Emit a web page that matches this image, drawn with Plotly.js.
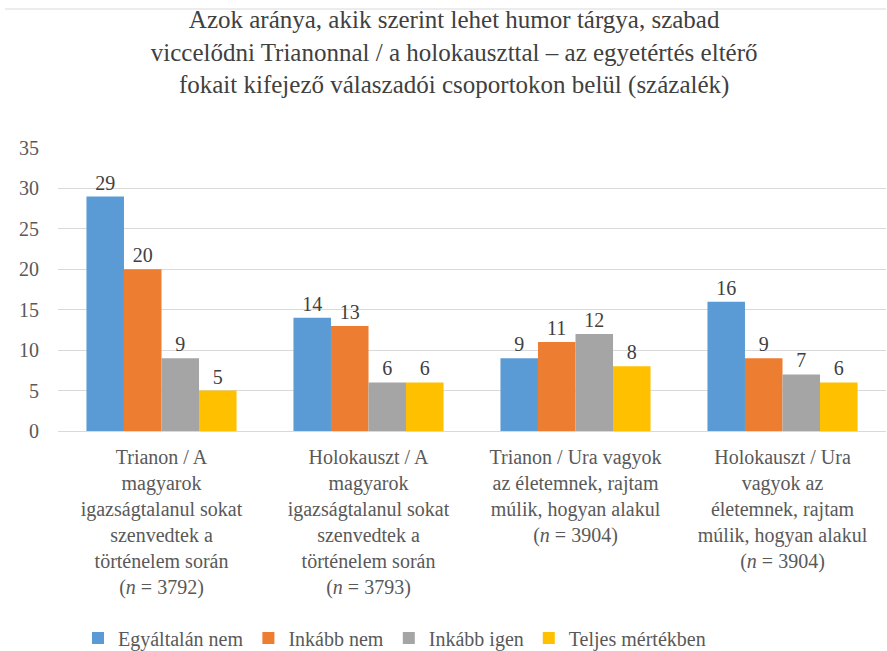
<!DOCTYPE html>
<html>
<head>
<meta charset="utf-8">
<script src="https://cdn.plot.ly/plotly-3.0.1.min.js"></script>
<style>
html,body{margin:0;padding:0;background:#fff;font-family:'Liberation Serif','Times New Roman',serif;}
#chart{width:887px;height:651px;}
#chart svg text, #chart svg tspan{font-family:'Liberation Serif','Times New Roman',serif !important;}
</style>
</head>
<body>
<div id="chart"></div>
<script>
const categories = [
  "Trianon / A<br>magyarok<br>igazságtalanul sokat<br>szenvedtek a<br>történelem során<br>(<i>n</i> = 3792)",
  "Holokauszt / A<br>magyarok<br>igazságtalanul sokat<br>szenvedtek a<br>történelem során<br>(<i>n</i> = 3793)",
  "Trianon / Ura vagyok<br>az életemnek, rajtam<br>múlik, hogyan alakul<br>(<i>n</i> = 3904)",
  "Holokauszt / Ura<br>vagyok az<br>életemnek, rajtam<br>múlik, hogyan alakul<br>(<i>n</i> = 3904)"
];
const seriesNames = ["Egyáltalán nem", "Inkább nem", "Inkább igen", "Teljes mértékben"];
const egyaltalanNem = [29, 14, 9, 16];
const inkabbNem = [20, 13, 11, 9];
const inkabbIgen = [9, 6, 12, 7];
const teljesMertekben = [5, 6, 8, 6];
const colors = ["#5B9BD5", "#ED7D31", "#A5A5A5", "#FFC000"];
const titleText = "Azok aránya, akik szerint lehet humor tárgya, szabad<br>viccelődni Trianonnal / a holokauszttal – az egyetértés eltérő<br>fokait kifejező válaszadói csoportokon belül (százalék)";

const values = [egyaltalanNem, inkabbNem, inkabbIgen, teljesMertekben];
const FAM = "Times New Roman";

const traces = values.map((v, i) => ({
  type: "bar",
  name: seriesNames[i],
  x: categories,
  y: v,
  marker: {color: colors[i]},
  text: v.map(String),
  textposition: "outside",
  cliponaxis: false,
  textfont: {family: FAM, size: 20, color: "#404040"},
  outsidetextfont: {family: FAM, size: 20, color: "#404040"},
  hoverinfo: "none"
}));

const layout = {
  width: 887,
  height: 651,
  margin: {l: 58, r: 1, t: 148, b: 220},
  paper_bgcolor: "#fff",
  plot_bgcolor: "#fff",
  font: {family: FAM, size: 20, color: "#595959"},
  title: {
    text: titleText,
    font: {family: FAM, size: 25, color: "#404040"},
    xref: "container", x: 0.512, xanchor: "center",
    yref: "container", y: 1 - 28/651, yanchor: "top"
  },
  barmode: "group",
  bargap: 0.275,
  bargroupgap: 0,
  showlegend: true,
  legend: {
    orientation: "h",
    xref: "container", yref: "container",
    x: 78/887, xanchor: "left",
    y: 1 - 638/651, yanchor: "middle",
    font: {family: FAM, size: 20, color: "#595959"},
    traceorder: "normal"
  },
  xaxis: {
    tickfont: {family: FAM, size: 20, color: "#595959"},
    showline: true, linecolor: "#D9D9D9", linewidth: 1,
    ticks: "", tickangle: 0,
    ticklabelstandoff: 8
  },
  yaxis: {
    range: [0, 35],
    dtick: 5,
    tickfont: {family: FAM, size: 20, color: "#595959"},
    showgrid: true, gridcolor: "#D9D9D9", gridwidth: 1,
    zeroline: false,
    showline: false, ticks: "",
    ticklabelstandoff: 18
  },
  shapes: [{
    type: "line", xref: "paper", yref: "paper",
    x0: -53/829, x1: 1, y0: (431-9)/283, y1: (431-9)/283,
    line: {color: "#D9D9D9", width: 1}
  }]
};

Plotly.newPlot("chart", traces, layout, {displayModeBar: false});
</script>
</body>
</html>
